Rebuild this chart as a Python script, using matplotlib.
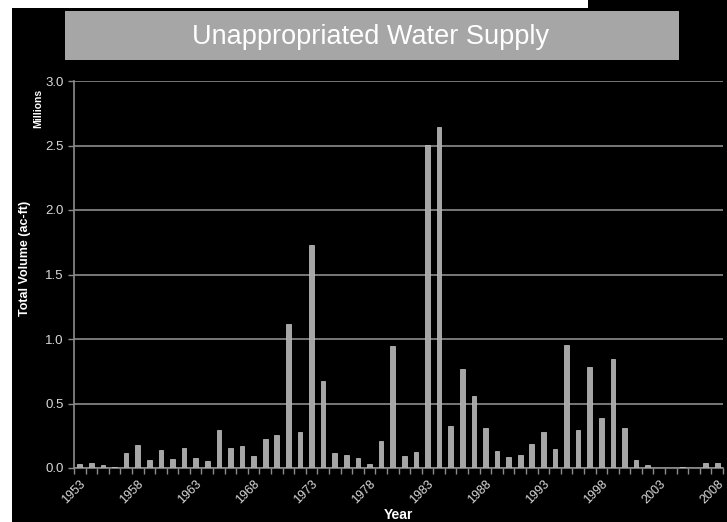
import numpy as np
import matplotlib.pyplot as plt
from matplotlib.patches import Rectangle

years = list(range(1953, 2009))
volume = [0.03, 0.04, 0.02, 0.008, 0.117, 0.179, 0.06, 0.14, 0.067, 0.158,
          0.08, 0.052, 0.293, 0.153, 0.174, 0.093, 0.228, 0.254, 1.12, 0.28,
          1.73, 0.671, 0.117, 0.101, 0.08, 0.034, 0.207, 0.946, 0.093, 0.124,
          2.505, 2.645, 0.326, 0.767, 0.557, 0.311, 0.13, 0.083, 0.098, 0.184,
          0.277, 0.15, 0.952, 0.295, 0.782, 0.386, 0.843, 0.311, 0.06, 0.023,
          0.002, 0.003, 0.004, 0.003, 0.039, 0.036]
yticks = [0.0, 0.5, 1.0, 1.5, 2.0, 2.5, 3.0]

plt.rcParams['font.family'] = ['Liberation Sans Narrow', 'Liberation Sans', 'DejaVu Sans']

fig = plt.figure(figsize=(7.27, 5.22), dpi=100, facecolor='white')
W, H = 727, 522

# black slide background, leaving a thin white strip top/left
fig.patches.append(Rectangle((12 / W, 0), 1, (H - 8) / H, transform=fig.transFigure,
                             facecolor='black', edgecolor='none', zorder=-2))
fig.patches.append(Rectangle((588 / W, 0), 1, 1, transform=fig.transFigure,
                             facecolor='black', edgecolor='none', zorder=-2))
# title banner
fig.patches.append(Rectangle((65 / W, (H - 60) / H), 614 / W, 49 / H, transform=fig.transFigure,
                             facecolor='#a6a6a6', edgecolor='none', zorder=-1))
fig.text(371 / W, (H - 37) / H, "Unappropriated Water Supply", color='white',
         fontsize=19.5, ha='center', va='center', family=['Liberation Sans', 'DejaVu Sans'])

ax = fig.add_axes([74 / W, (H - 468) / H, 649 / W, 387 / H])
ax.set_facecolor('black')

x = np.arange(len(years))
ax.bar(x, volume, width=0.4, color='#a6a6a6', edgecolor='#c8c8c8', linewidth=0.5, zorder=3)

ax.set_xlim(-0.5, len(years) - 0.5)
ax.set_ylim(0, 3.0)
ax.set_yticks(yticks)
ax.set_yticklabels([f"{v:.1f}" for v in yticks])
ax.yaxis.grid(True, color='#8c8c8c', linewidth=1.2, zorder=1)
ax.set_axisbelow(True)

ax.set_xticks(x[::5])
ax.set_xticklabels([str(y) for y in years[::5]], rotation=45, ha='right',
                   rotation_mode='anchor')
ax.set_xticks(np.arange(-0.5, len(years), 1), minor=True)
ax.tick_params(axis='x', which='major', length=0, pad=7, colors='#d9d9d9', labelsize=9)
ax.tick_params(axis='x', which='minor', length=4, color='#8c8c8c', width=1)
ax.tick_params(axis='y', length=4, width=1, colors='#d9d9d9', labelsize=9.5)
ax.tick_params(axis='y', which='major', color='#8c8c8c')

for side in ['top', 'right']:
    ax.spines[side].set_visible(False)
ax.spines['left'].set_color('#8c8c8c')
ax.spines['bottom'].set_color('#8c8c8c')
ax.spines['left'].set_linewidth(1.2)
ax.spines['bottom'].set_linewidth(1.2)

fig.text(25 / W, (H - 258) / H, "Total Volume (ac-ft)", rotation=90, color='white',
         fontsize=9, fontweight='bold', ha='center', va='center',
         family=['Liberation Sans', 'DejaVu Sans'])
fig.text(38 / W, (H - 108) / H, "Millions", rotation=90, color='white',
         fontsize=7.5, fontweight='bold', ha='center', va='center',
         family=['Liberation Sans', 'DejaVu Sans'])
fig.text(398 / W, (H - 515) / H, "Year", color='white', fontsize=10, fontweight='bold',
         ha='center', va='center', family=['Liberation Sans', 'DejaVu Sans'])

fig.savefig("out.png", dpi=100, facecolor=fig.get_facecolor())
